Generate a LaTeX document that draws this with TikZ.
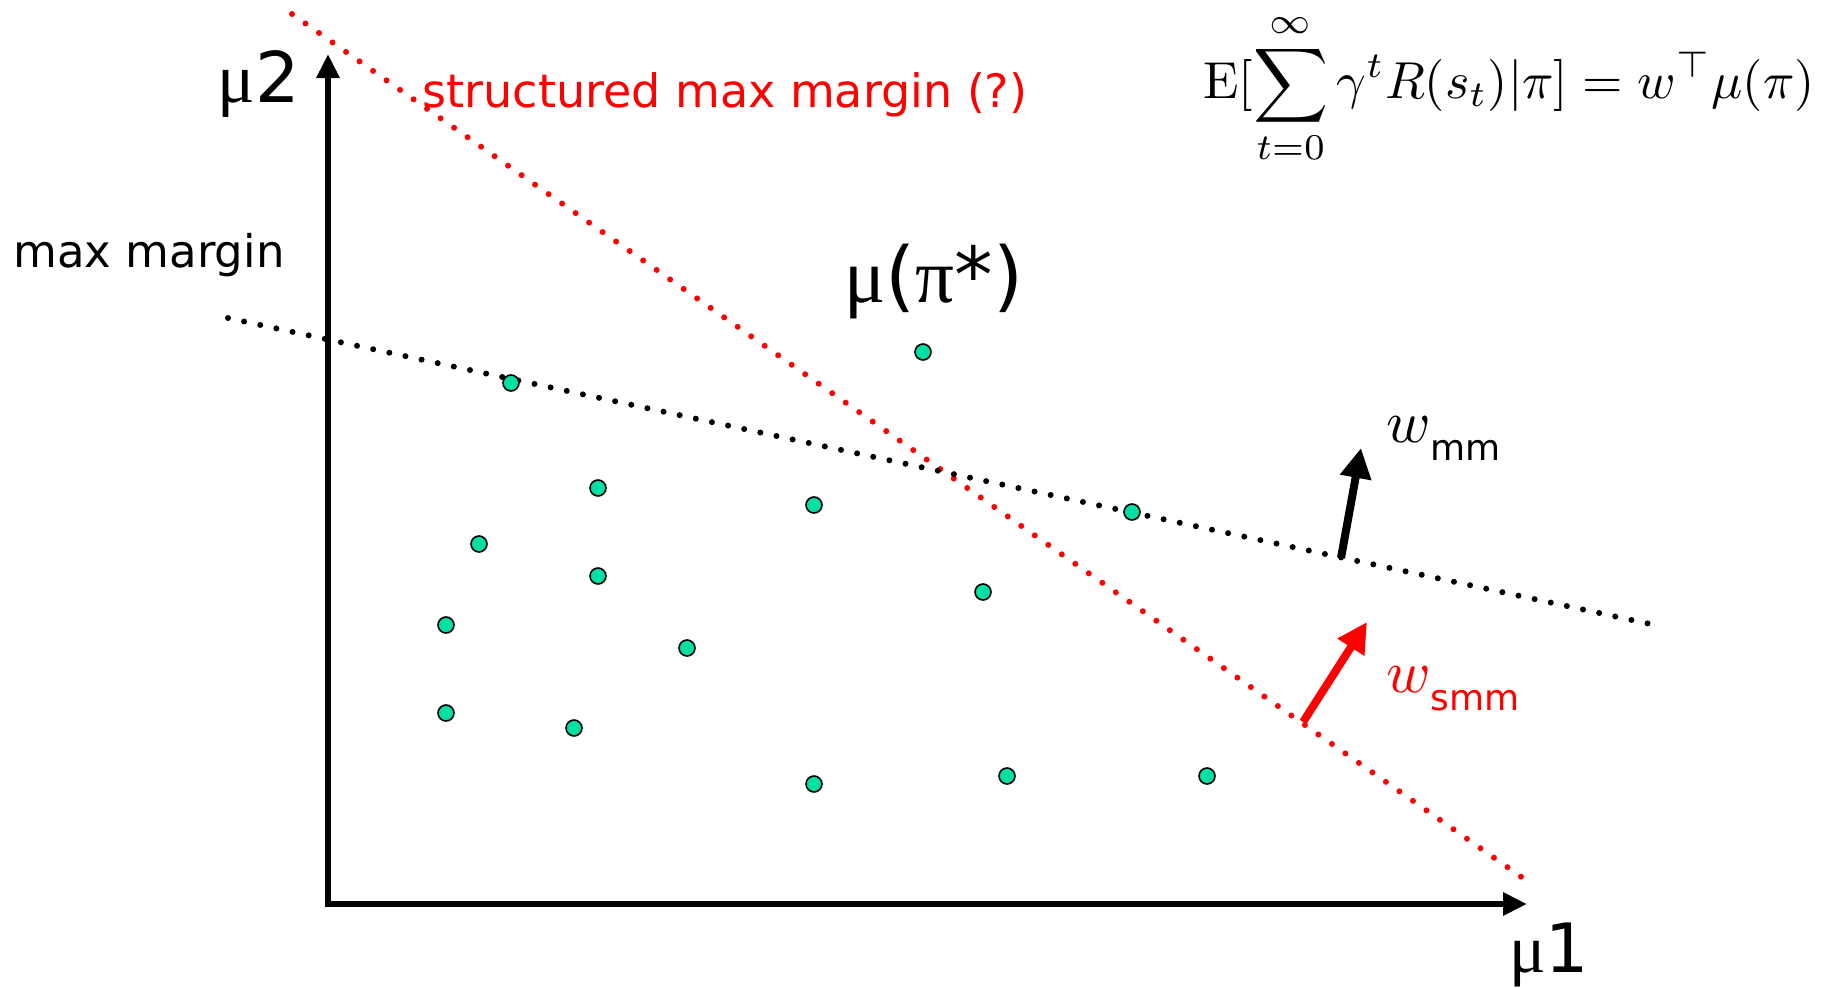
\documentclass[tikz,border=0pt]{standalone}
\usepackage[no-math]{fontspec}
\usepackage{amsmath}
\usepackage{graphicx}
\newfontfamily\dv{DejaVu Sans}
\newfontfamily\lsr{Liberation Serif}
\usetikzlibrary{arrows.meta}
\definecolor{dotfill}{RGB}{0,224,164}
\begin{document}
\begin{tikzpicture}[x=1pt,y=-1pt,
  pt/.style={circle,draw=black,line width=1.6pt,fill=dotfill,minimum size=16pt,inner sep=0pt},
  axis/.style={line width=6pt,-{Triangle[length=24pt,width=22pt]}},
  dotline/.style={line width=6pt,line cap=round,dash pattern=on 0pt off 16.5pt},
  warrow/.style={line width=8pt,-{Triangle[length=30pt,width=30pt]}},
  lbl/.style={inner sep=0pt,anchor=center},
  wlbl/.style={inner sep=0pt,anchor=base west}]
\useasboundingbox (0,0) rectangle (1832,988);
% axes
\coordinate (O) at (328,904);
\coordinate (Y) at (328,54);
\coordinate (X) at (1527,904);
\draw[axis] (O) -- (Y);
\draw[axis] ([xshift=-3pt]O) -- (X);
% dotted separating lines
\coordinate (r1) at (292,14);
\coordinate (r2) at (1530,883);
\coordinate (b1) at (228,318);
\coordinate (b2) at (1655,625);
\draw[dotline,red] (r1) -- (r2);
\draw[dotline,black] (b1) -- (b2);
% weight arrows
\coordinate (wm0) at (1341,558);
\coordinate (wm1) at (1361,448);
\coordinate (ws0) at (1303,722);
\coordinate (ws1) at (1367,622);
\draw[warrow,black] (wm0) -- (wm1);
\draw[warrow,red] (ws0) -- (ws1);
% points
\node[pt] (p1) at (511,383) {};
\node[pt] (p2) at (923,352) {};
\node[pt] (p3) at (598,488) {};
\node[pt] (p4) at (814,505) {};
\node[pt] (p5) at (1132,512) {};
\node[pt] (p6) at (479,544) {};
\node[pt] (p7) at (598,576) {};
\node[pt] (p8) at (983,592) {};
\node[pt] (p9) at (446,625) {};
\node[pt] (p10) at (687,648) {};
\node[pt] (p11) at (446,713) {};
\node[pt] (p12) at (574,728) {};
\node[pt] (p13) at (814,784) {};
\node[pt] (p14) at (1007,776) {};
\node[pt] (p15) at (1207,776) {};
% labels
\node[lbl] (mu2) at (259,84) {\fontsize{70}{76}\selectfont{\lsr μ}{\dv 2}};
\node[lbl] (mu1) at (1549,955) {\fontsize{68}{74}\selectfont{\lsr μ}{\dv 1}};
\node[lbl,text=red] (smm) at (725,95) {\fontsize{46}{50}\selectfont\dv structured max margin (?)};
\node[lbl] (mm) at (149,255) {\fontsize{45}{50}\selectfont\dv max margin};
\node[lbl] (mustar) at (934,282) {\fontsize{77}{84}\selectfont{\lsr μ}{\dv (}{\lsr π}{\dv *)}};
\node[lbl] (formula) at (1509,89) {\scalebox{5.2}{$\displaystyle \mathrm{E}[\sum_{t=0}^{\infty}\gamma^t R(s_t)|\pi] = w^\top \mu(\pi)$}};
\node[wlbl] (wmm) at (1386,442) {\scalebox{6}{$w$}\raisebox{-18pt}{\fontsize{36}{40}\selectfont\dv mm}};
\node[wlbl,text=red] (wsmm) at (1386,692) {\scalebox{6}{$w$}\raisebox{-18pt}{\fontsize{36}{40}\selectfont\dv smm}};
\end{tikzpicture}
\end{document}
